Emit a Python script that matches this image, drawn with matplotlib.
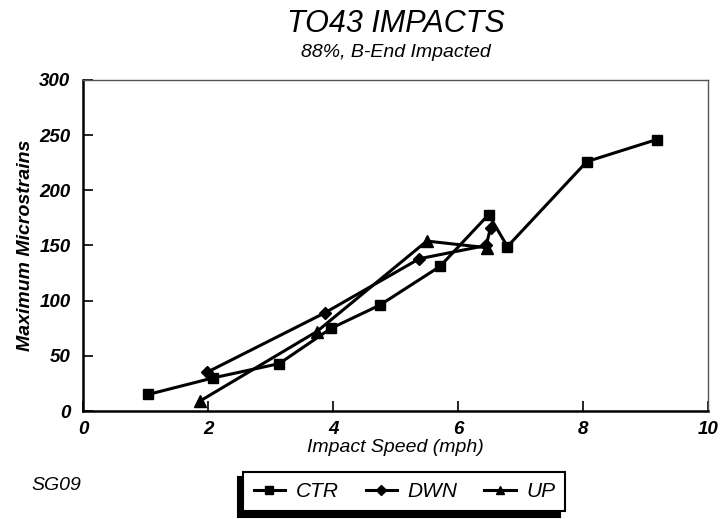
import matplotlib
matplotlib.use("Agg")
import matplotlib.pyplot as plt

plt.rcParams['font.family'] = ['Liberation Sans', 'DejaVu Sans']

ctr_x = [1.04, 2.08, 3.14, 3.97, 4.75, 5.71, 6.49, 6.79, 8.06, 9.18]
ctr_y = [15, 30, 43, 75, 96, 131, 178, 149, 226, 246]
dwn_x = [1.98, 3.87, 5.38, 6.45, 6.52]
dwn_y = [35, 89, 138, 150, 166]
up_x = [1.87, 3.74, 5.5, 6.46]
up_y = [9, 72, 154, 148]

x_ticks = [0, 2, 4, 6, 8, 10]
y_ticks = [0, 50, 100, 150, 200, 250, 300]

fig = plt.figure(figsize=(7.26, 5.19), dpi=100)
ax = fig.add_axes([0.1143, 0.208, 0.861, 0.638])

lw = 2.2
ax.plot(ctr_x, ctr_y, color='black', lw=lw, marker='s', ms=7.5, label='CTR', clip_on=False)
ax.plot(dwn_x, dwn_y, color='black', lw=lw, marker='D', ms=6.5, label='DWN', clip_on=False)
ax.plot(up_x, up_y, color='black', lw=lw, marker='^', ms=8.5, label='UP', clip_on=False)

ax.set_xlim(0, 10)
ax.set_ylim(0, 300)
ax.set_xticks(x_ticks)
ax.set_yticks(y_ticks)
tick_font = dict(fontsize=13.5, fontstyle='italic', fontweight='bold')
ax.set_xticklabels([str(t) for t in x_ticks], **tick_font)
ax.set_yticklabels([str(t) for t in y_ticks], **tick_font)
ax.tick_params(direction='in', length=7, width=1.2)
ax.tick_params(axis='x', pad=7)
ax.tick_params(axis='y', pad=9)
for s in ['left', 'bottom']:
    ax.spines[s].set_linewidth(1.8)
for s in ['top', 'right']:
    ax.spines[s].set_linewidth(1.0)
    ax.spines[s].set_color('#555555')

ax.set_xlabel('Impact Speed (mph)', fontsize=14, fontstyle='italic', labelpad=1)
ax.set_ylabel('Maximum Microstrains', fontsize=14, fontstyle='italic', fontweight='bold', labelpad=4)

fig.text(0.545, 0.954, 'TO43 IMPACTS', ha='center', va='center', fontsize=22, fontstyle='italic')
fig.text(0.545, 0.898, '88%, B-End Impacted', ha='center', va='center', fontsize=14, fontstyle='italic')
fig.text(0.044, 0.064, 'SG09', ha='left', va='center', fontsize=14, fontstyle='italic')

leg = fig.legend(loc='center', bbox_to_anchor=(0.557, 0.053), ncol=3, frameon=True,
                 fancybox=False, edgecolor='black',
                 prop={'style': 'italic', 'size': 15},
                 handlelength=1.5, columnspacing=1.3, handletextpad=0.5,
                 borderpad=0.5, borderaxespad=0, markerscale=0.75,
                 shadow={'ox': -4, 'oy': -4, 'color': 'black', 'alpha': 1})
leg.get_frame().set_linewidth(1.5)

fig.savefig('out.png', dpi=100)
